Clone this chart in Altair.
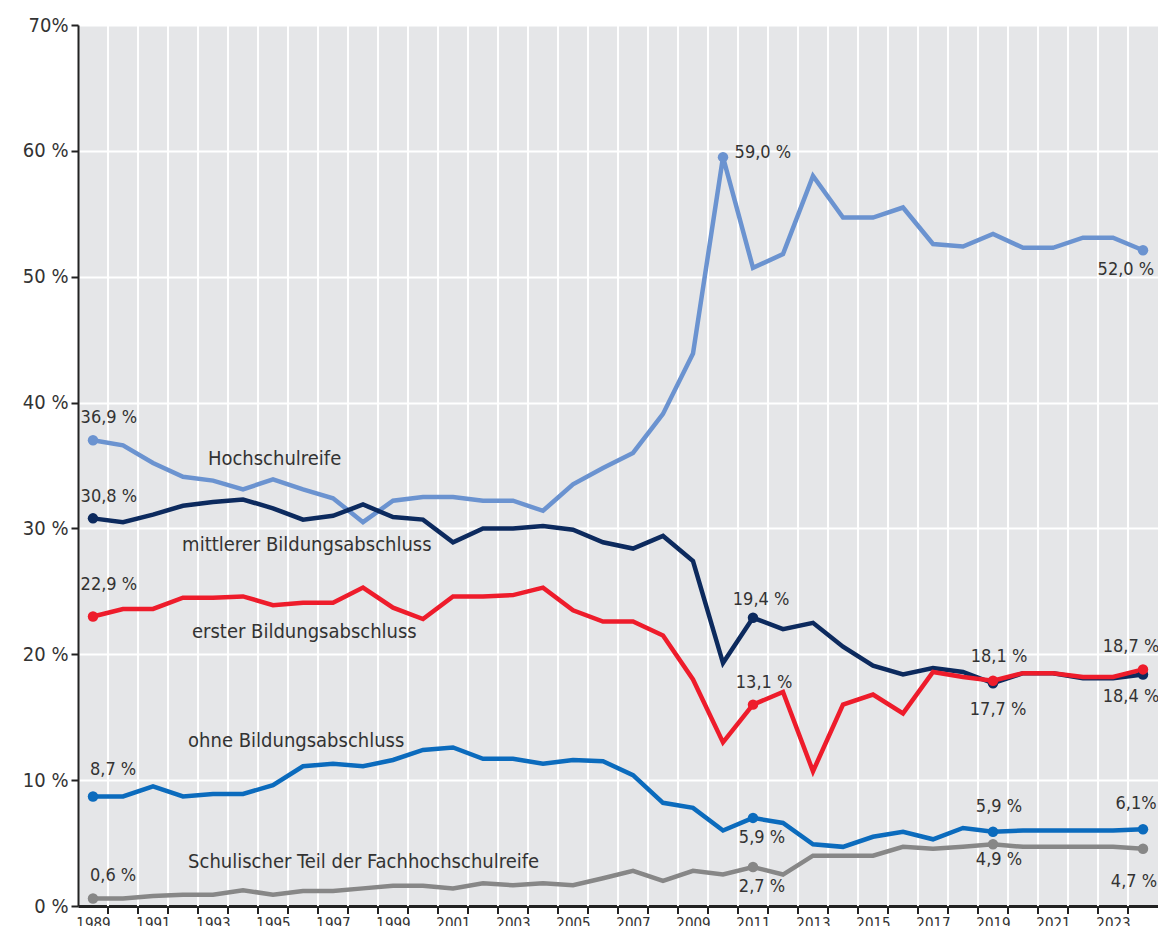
import altair as alt
import pandas as pd

# ---------------- data ----------------
years = list(range(1989, 2025))

series_names = [
    "Hochschulreife",
    "mittlerer Bildungsabschluss",
    "erster Bildungsabschluss",
    "ohne Bildungsabschluss",
    "Schulischer Teil der Fachhochschulreife",
]
series_colors = ["#6b93d0", "#0c2a5e", "#ee1c2b", "#0b6bbd", "#878787"]

hochschulreife = [37.0, 36.6, 35.2, 34.1, 33.8, 33.1, 33.9, 33.1, 32.4, 30.5,
                  32.2, 32.5, 32.5, 32.2, 32.2, 31.4, 33.5, 34.8, 36.0, 39.1,
                  43.9, 59.5, 50.7, 51.8, 58.0, 54.7, 54.7, 55.5, 52.6, 52.4,
                  53.4, 52.3, 52.3, 53.1, 53.1, 52.1]
mittlerer = [30.8, 30.5, 31.1, 31.8, 32.1, 32.3, 31.6, 30.7, 31.0, 31.9,
             30.9, 30.7, 28.9, 30.0, 30.0, 30.2, 29.9, 28.9, 28.4, 29.4,
             27.4, 19.3, 22.9, 22.0, 22.5, 20.6, 19.1, 18.4, 18.9, 18.6,
             17.7, 18.5, 18.5, 18.1, 18.1, 18.4]
erster = [23.0, 23.6, 23.6, 24.5, 24.5, 24.6, 23.9, 24.1, 24.1, 25.3,
          23.7, 22.8, 24.6, 24.6, 24.7, 25.3, 23.5, 22.6, 22.6, 21.5,
          18.0, 13.0, 16.0, 17.0, 10.7, 16.0, 16.8, 15.3, 18.6, 18.2,
          17.9, 18.5, 18.5, 18.2, 18.2, 18.8]
ohne = [8.7, 8.7, 9.5, 8.7, 8.9, 8.9, 9.6, 11.1, 11.3, 11.1,
        11.6, 12.4, 12.6, 11.7, 11.7, 11.3, 11.6, 11.5, 10.4, 8.2,
        7.8, 6.0, 7.0, 6.6, 4.9, 4.7, 5.5, 5.9, 5.3, 6.2,
        5.9, 6.0, 6.0, 6.0, 6.0, 6.1]
schulisch = [0.6, 0.6, 0.8, 0.9, 0.9, 1.25, 0.9, 1.2, 1.2, 1.4,
             1.6, 1.6, 1.4, 1.8, 1.65, 1.8, 1.65, 2.2, 2.8, 2.0,
             2.8, 2.5, 3.1, 2.5, 4.0, 4.0, 4.0, 4.7, 4.55, 4.7,
             4.9, 4.7, 4.7, 4.7, 4.7, 4.55]
series_values = [hochschulreife, mittlerer, erster, ohne, schulisch]

# years that carry a dot marker, per series
marker_years = [
    [1989, 2010, 2024],
    [1989, 2011, 2019, 2024],
    [1989, 2011, 2019, 2024],
    [1989, 2011, 2019, 2024],
    [1989, 2011, 2019, 2024],
]

# value annotations: text, anchor year, anchor value (data units)
value_texts = ["36,9 %", "30,8 %", "22,9 %", "8,7 %", "0,6 %",
               "59,0 %", "52,0 %",
               "19,4 %", "13,1 %", "5,9 %", "2,7 %",
               "18,1 %", "17,7 %", "5,9 %", "4,9 %",
               "18,7 %", "18,4 %", "6,1%", "4,7 %"]
value_years = [1989.53, 1989.53, 1989.53, 1989.67, 1989.67,
               2011.33, 2023.43,
               2011.27, 2011.37, 2011.3, 2011.3,
               2019.2, 2019.17, 2019.2, 2019.2,
               2023.6, 2023.6, 2023.77, 2023.7]
value_levels = [38.76, 32.49, 25.50, 10.80, 2.38,
                59.81, 50.52,
                24.30, 17.71, 5.40, 1.51,
                19.78, 15.57, 7.86, 3.65,
                20.57, 16.60, 8.10, 1.91]

# series name annotations (left aligned)
name_years = [1992.83, 1991.97, 1992.3, 1992.17, 1992.17]
name_levels = [35.50, 28.67, 21.76, 13.11, 3.49]

y_ticks = [0, 10, 20, 30, 40, 50, 60, 70]
label_years = [y for y in years if y % 2 == 1]

# ---------------- tables ----------------
rows = []
for name, vals in zip(series_names, series_values):
    for yr, v in zip(years, vals):
        rows.append({"year": yr, "value": v, "series": name})
df = pd.DataFrame(rows)

pts = []
for name, vals, mys in zip(series_names, series_values, marker_years):
    for yr, v in zip(years, vals):
        if yr in mys:
            pts.append({"year": yr, "value": v, "series": name})
df_pts = pd.DataFrame(pts)

df_vals = pd.DataFrame({"year": value_years, "value": value_levels, "text": value_texts})
df_names = pd.DataFrame({"year": name_years, "value": name_levels, "text": series_names})
df_bounds = pd.DataFrame({"b": [y + 0.5 for y in years[:-1]]})

FONT = "DejaVu Sans Condensed, Roboto Condensed, Roboto, sans-serif"
TXT = "#333333"
PLOT_H = 881

x_scale = alt.Scale(domain=[1988.5, 2024.5], nice=False, zero=False)
y_scale = alt.Scale(domain=[0, 70], nice=False)
color_scale = alt.Scale(domain=series_names, range=series_colors)

x_enc = alt.X(
    "year:Q", scale=x_scale, title=None,
    axis=alt.Axis(
        values=label_years, format="d", labelOverlap=False,
        labelFontSize=15, labelFont=FONT, labelColor=TXT,
        labelPadding=10, ticks=False, grid=False,
        domainColor="#222222", domainWidth=3, labelFlush=False,
    ),
)
y_enc = alt.Y(
    "value:Q", scale=y_scale, title=None,
    axis=alt.Axis(
        values=y_ticks,
        labelExpr="datum.value == 70 ? '70%' : datum.value + ' %'",
        labelFontSize=20, labelFont=FONT, labelColor=TXT, labelPadding=3,
        tickSize=7, tickColor="#222222", tickWidth=2,
        domainColor="#222222", domainWidth=2,
        grid=True, gridColor="white", gridWidth=2,
    ),
)

# vertical grid lines between years
vgrid = alt.Chart(df_bounds).mark_rule(color="white", strokeWidth=2).encode(
    x=alt.X("b:Q", scale=x_scale), y=alt.datum(0, scale=y_scale), y2=alt.datum(70)
)
# bottom axis ticks between years
xticks = alt.Chart(df_bounds).mark_rule(color="#222222", strokeWidth=2).encode(
    x=alt.X("b:Q", scale=x_scale), y=alt.value(PLOT_H), y2=alt.value(PLOT_H + 8)
)

layers = [vgrid]
for name in series_names:
    layers.append(
        alt.Chart(df).transform_filter(alt.datum.series == name)
        .mark_line(strokeWidth=4.5, strokeJoin="miter")
        .encode(x=x_enc, y=y_enc,
                color=alt.Color("series:N", scale=color_scale, legend=None))
    )

points = alt.Chart(df_pts).mark_circle(size=110, opacity=1).encode(
    x=alt.X("year:Q", scale=x_scale),
    y=alt.Y("value:Q", scale=y_scale),
    color=alt.Color("series:N", scale=color_scale, legend=None),
)

val_text = alt.Chart(df_vals).mark_text(
    font=FONT, fontSize=18, color=TXT, align="center", baseline="middle"
).encode(x=alt.X("year:Q", scale=x_scale), y=alt.Y("value:Q", scale=y_scale), text="text:N")

name_text = alt.Chart(df_names).mark_text(
    font=FONT, fontSize=20, color=TXT, align="left", baseline="middle"
).encode(x=alt.X("year:Q", scale=x_scale), y=alt.Y("value:Q", scale=y_scale), text="text:N")

chart = alt.layer(*layers, points, val_text, name_text, xticks).properties(
    width=1080, height=PLOT_H,
    autosize=alt.AutoSizeParams(type="none"),
    padding={"left": 70, "top": 17, "right": 0, "bottom": 20},
    background="white",
).configure_view(fill="#e5e6e8", strokeWidth=0)

chart.save("out.html", embed_options={"renderer": "svg", "actions": False})
